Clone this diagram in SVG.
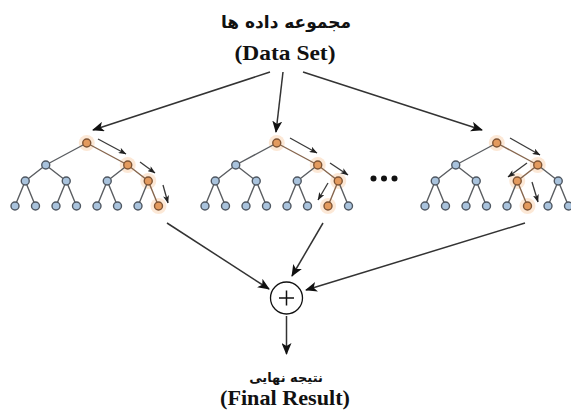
<svg xmlns="http://www.w3.org/2000/svg" width="571" height="412" viewBox="0 0 571 412">
<style>
.bg{fill:#ffffff}
.e{stroke:#5a5d61;stroke-width:1.4;fill:none}
.eo{stroke:#86664e;stroke-width:1.4;fill:none}
.n{fill:#a9c3dd;stroke:#4f5761;stroke-width:1.4}
.o{fill:#e39a5e;stroke:#7f5434;stroke-width:1.4}
.halo{fill:#fbe2cc;opacity:0.8}
.g{stroke:#3a3a3a;stroke-width:1.3;fill:none;marker-end:url(#sa)}
.c{stroke:#333333;stroke-width:1.5;fill:none;marker-end:url(#ma)}
.fa{font-family:"DejaVu Sans",sans-serif;font-weight:bold;fill:#111}
.en{font-family:"Liberation Serif","Times New Roman",serif;font-weight:bold;fill:#111}
</style>
<defs>
<marker id="ma" viewBox="0 0 12 10" refX="11" refY="5" markerWidth="12" markerHeight="10" markerUnits="userSpaceOnUse" orient="auto">
<path d="M0,0 L12,5 L0,10 L3,5 Z" fill="#111"/>
</marker>
<marker id="sa" viewBox="0 0 8 6" refX="7.5" refY="3" markerWidth="8" markerHeight="6" markerUnits="userSpaceOnUse" orient="auto">
<path d="M0,0 L8,3 L0,6 L2,3 Z" fill="#222"/>
</marker>
</defs>
<rect class="bg" x="0" y="0" width="571" height="412"/>

<g id="title">
<text class="fa" x="286" y="28" font-size="17" text-anchor="middle" direction="rtl">مجموعه داده ها</text>
<text class="en" x="285" y="60" font-size="22" text-anchor="middle" textLength="101" lengthAdjust="spacingAndGlyphs">(Data Set)</text>
</g>

<g id="tree1" transform="translate(15,0)">
<circle class="halo" cx="71.75" cy="143" r="8"/><circle class="halo" cx="112.75" cy="165" r="8"/><circle class="halo" cx="133.25" cy="181" r="8"/><circle class="halo" cx="143.5" cy="206" r="8"/>
<path class="e" d="M71.75,143 L30.75,165 M30.75,165 L10.25,181 M30.75,165 L51.25,181 M112.75,165 L92.25,181 M10.25,181 L0,206 M10.25,181 L20.5,206 M51.25,181 L41,206 M51.25,181 L61.5,206 M92.25,181 L82,206 M92.25,181 L102.5,206 M133.25,181 L123,206"/>
<path class="eo" d="M71.75,143 L112.75,165 L133.25,181 L143.5,206"/>
<circle class="o" cx="71.75" cy="143" r="4"/>
<circle class="n" cx="30.75" cy="165" r="4"/><circle class="o" cx="112.75" cy="165" r="4"/>
<circle class="n" cx="10.25" cy="181" r="4"/><circle class="n" cx="51.25" cy="181" r="4"/><circle class="n" cx="92.25" cy="181" r="4"/><circle class="o" cx="133.25" cy="181" r="4"/>
<circle class="n" cx="0" cy="206" r="4"/><circle class="n" cx="20.5" cy="206" r="4"/><circle class="n" cx="41" cy="206" r="4"/><circle class="n" cx="61.5" cy="206" r="4"/><circle class="n" cx="82" cy="206" r="4"/><circle class="n" cx="102.5" cy="206" r="4"/><circle class="n" cx="123" cy="206" r="4"/><circle class="o" cx="143.5" cy="206" r="4"/>
</g>

<g id="tree2" transform="translate(205,0)">
<circle class="halo" cx="71.75" cy="143" r="8"/><circle class="halo" cx="112.75" cy="165" r="8"/><circle class="halo" cx="133.25" cy="181" r="8"/><circle class="halo" cx="123" cy="206" r="8"/>
<path class="e" d="M71.75,143 L30.75,165 M30.75,165 L10.25,181 M30.75,165 L51.25,181 M112.75,165 L92.25,181 M10.25,181 L0,206 M10.25,181 L20.5,206 M51.25,181 L41,206 M51.25,181 L61.5,206 M92.25,181 L82,206 M92.25,181 L102.5,206 M133.25,181 L143.5,206"/>
<path class="eo" d="M71.75,143 L112.75,165 L133.25,181 L123,206"/>
<circle class="o" cx="71.75" cy="143" r="4"/>
<circle class="n" cx="30.75" cy="165" r="4"/><circle class="o" cx="112.75" cy="165" r="4"/>
<circle class="n" cx="10.25" cy="181" r="4"/><circle class="n" cx="51.25" cy="181" r="4"/><circle class="n" cx="92.25" cy="181" r="4"/><circle class="o" cx="133.25" cy="181" r="4"/>
<circle class="n" cx="0" cy="206" r="4"/><circle class="n" cx="20.5" cy="206" r="4"/><circle class="n" cx="41" cy="206" r="4"/><circle class="n" cx="61.5" cy="206" r="4"/><circle class="n" cx="82" cy="206" r="4"/><circle class="n" cx="102.5" cy="206" r="4"/><circle class="o" cx="123" cy="206" r="4"/><circle class="n" cx="143.5" cy="206" r="4"/>
</g>

<g id="dots">
<circle cx="373.5" cy="178.5" r="3" fill="#111"/><circle cx="384" cy="178.5" r="3" fill="#111"/><circle cx="394.5" cy="178.5" r="3" fill="#111"/>
</g>

<g id="tree3" transform="translate(425,0)">
<circle class="halo" cx="71.75" cy="143" r="8"/><circle class="halo" cx="112.75" cy="165" r="8"/><circle class="halo" cx="92.25" cy="181" r="8"/><circle class="halo" cx="102.5" cy="206" r="8"/>
<path class="e" d="M71.75,143 L30.75,165 M30.75,165 L10.25,181 M30.75,165 L51.25,181 M112.75,165 L133.25,181 M10.25,181 L0,206 M10.25,181 L20.5,206 M51.25,181 L41,206 M51.25,181 L61.5,206 M92.25,181 L82,206 M133.25,181 L123,206 M133.25,181 L143.5,206"/>
<path class="eo" d="M71.75,143 L112.75,165 L92.25,181 L102.5,206"/>
<circle class="o" cx="71.75" cy="143" r="4"/>
<circle class="n" cx="30.75" cy="165" r="4"/><circle class="o" cx="112.75" cy="165" r="4"/>
<circle class="n" cx="10.25" cy="181" r="4"/><circle class="n" cx="51.25" cy="181" r="4"/><circle class="o" cx="92.25" cy="181" r="4"/><circle class="n" cx="133.25" cy="181" r="4"/>
<circle class="n" cx="0" cy="206" r="4"/><circle class="n" cx="20.5" cy="206" r="4"/><circle class="n" cx="41" cy="206" r="4"/><circle class="n" cx="61.5" cy="206" r="4"/><circle class="n" cx="82" cy="206" r="4"/><circle class="o" cx="102.5" cy="206" r="4"/><circle class="n" cx="123" cy="206" r="4"/><circle class="n" cx="143.5" cy="206" r="4"/>
</g>

<g id="sum">
<circle cx="286.5" cy="298" r="16" fill="#fff" stroke="#111" stroke-width="1.3"/>
<path d="M279,298 H294 M286.5,290.5 V305.5" stroke="#111" stroke-width="1.5"/>
</g>

<g id="result">
<text class="fa" x="286" y="382" font-size="13" text-anchor="middle" direction="rtl">نتیجه نهایی</text>
<text class="en" x="285" y="405" font-size="22" text-anchor="middle" textLength="130" lengthAdjust="spacingAndGlyphs">(Final Result)</text>
</g>

<g id="connectors">
<line class="c" x1="270" y1="72" x2="93" y2="130"/>
<line class="c" x1="283" y1="72" x2="276" y2="132"/>
<line class="c" x1="303" y1="72" x2="482" y2="130"/>
<line class="c" x1="167" y1="223" x2="269" y2="289"/>
<line class="c" x1="323" y1="223" x2="292" y2="276"/>
<line class="c" x1="525" y1="223" x2="306" y2="290"/>
<line class="c" x1="286.5" y1="316" x2="286.5" y2="354"/>
<line class="g" x1="98" y1="139" x2="126" y2="154"/>
<line class="g" x1="140" y1="162" x2="155" y2="173"/>
<line class="g" x1="163" y1="185" x2="168" y2="203"/>
<line class="g" x1="290" y1="138" x2="317" y2="153"/>
<line class="g" x1="330" y1="163" x2="348" y2="175"/>
<line class="g" x1="328" y1="183" x2="318" y2="200"/>
<line class="g" x1="510" y1="138" x2="540" y2="155"/>
<line class="g" x1="527" y1="163" x2="508" y2="177"/>
<line class="g" x1="532" y1="182" x2="538" y2="202"/>
</g>
</svg>
